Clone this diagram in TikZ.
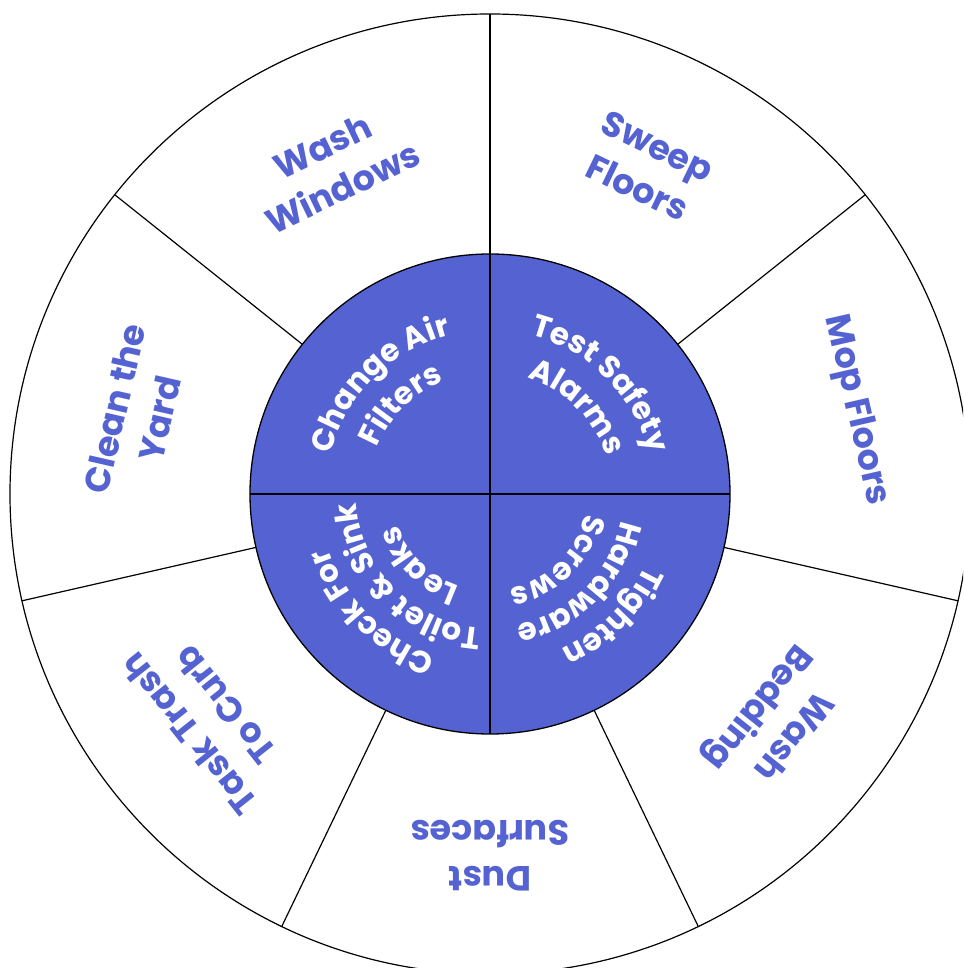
\documentclass[tikz,border=0pt]{standalone}
\usepackage{fontspec}
\setmainfont{Poppins}
\usetikzlibrary{decorations.text}
\definecolor{wheelblue}{RGB}{84,99,209}
\newcommand\outerfont{\fontsize{35}{46}\selectfont\bfseries}
\newcommand\innerfont{\fontsize{31}{31}\selectfont\bfseries}
\begin{document}
\begin{tikzpicture}[x=1pt,y=1pt,
  seg/.style={line width=1.2pt, draw=black},
  lab/.style={text=wheelblue, font=\outerfont, align=center, inner sep=0pt},
  arctext/.style={decorate, decoration={text along path, text align=center, text color=white, text={|\innerfont|#1}}}
]
\useasboundingbox (-490,-474) rectangle (473,494);
\clip (-490,-474) rectangle (473,494);
\draw[seg] (0,0) circle[radius=480];
\foreach \k in {0,...,6} \draw[seg] ({90-\k*360/7}:240) -- ({90-\k*360/7}:480);
\filldraw[fill=wheelblue, draw=black, line width=1.3pt] (0,0) circle[radius=240];
\draw[line width=1.3pt] (0,-240) -- (0,240) (-240,0) -- (240,0);
% outer labels
\node[lab, rotate=64.29-90] (l1) at (64.29:363) {Sweep\\Floors};
\node[lab, rotate=12.86-90] (l2) at (12.86:375) {Mop Floors};
\node[lab, rotate=-38.57-90] (l3) at (-38.57:363) {Wash\\Bedding};
\node[lab, rotate=-180] (l4) at (-90:362) {Dust\\Surfaces};
\node[lab, rotate=-141.43-90] (l5) at (-141.43:362) {Task Trash\\To Curb};
\node[lab, rotate=167.14-90] (l6) at (167.14:362) {Clean the\\Yard};
\node[lab, rotate=115.71-90] (l7) at (115.71:363) {Wash\\Windows};
% inner labels
\path[arctext={Change Air}] (215:164) arc[start angle=215, end angle=55, radius=164];
\path[arctext={Filters}] (215:122) arc[start angle=215, end angle=55, radius=122];
\path[arctext={Test Safety}] (125:164) arc[start angle=125, end angle=-35, radius=164];
\path[arctext={Alarms}] (125:122) arc[start angle=125, end angle=-35, radius=122];
\path[arctext={Tighten}] (35:171) arc[start angle=35, end angle=-125, radius=171];
\path[arctext={Hardware}] (35:134) arc[start angle=35, end angle=-125, radius=134];
\path[arctext={Screws}] (35:97) arc[start angle=35, end angle=-125, radius=97];
\path[arctext={Check For}] (-55:171) arc[start angle=-55, end angle=-215, radius=171];
\path[arctext={Toilet {\&} Sink}] (-55:134) arc[start angle=-55, end angle=-215, radius=134];
\path[arctext={Leaks}] (-55:97) arc[start angle=-55, end angle=-215, radius=97];
\end{tikzpicture}
\end{document}
